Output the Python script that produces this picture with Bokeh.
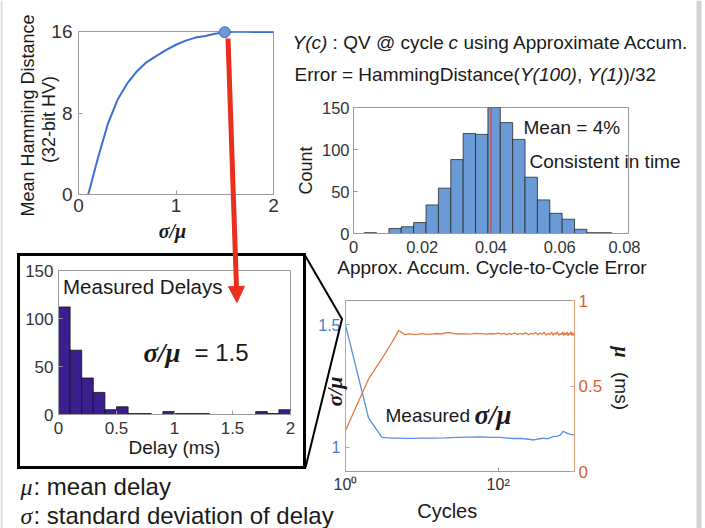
import math
from bokeh.plotting import figure
from bokeh.models import GridBox, Column, Range1d, LinearAxis, FixedTicker, Span, Arrow, NormalHead
from bokeh.core.properties import value
from bokeh.embed import file_html
from bokeh.resources import INLINE

# ---------------- data ----------------
# Mean Hamming distance vs sigma/mu
sm_ratio = [0.1, 0.2, 0.3, 0.4, 0.5, 0.6, 0.7, 0.8, 0.9, 1.0,
            1.1, 1.2, 1.3, 1.4, 1.5, 1.6, 1.7, 1.8, 1.9, 2.0]
hamming = [0.0, 3.6, 6.9, 9.3, 10.9, 12.1, 13.0, 13.6, 14.2, 14.7,
           15.1, 15.4, 15.55, 15.77, 15.93, 15.97, 15.97, 15.96, 15.95, 15.94]
sel_ratio = [1.5]
sel_hamming = [15.93]
hd_xticks = [0, 1, 2]
hd_xlabels = ["0", "1", "2"]
hd_yticks = [0, 8, 16]
hd_ylabels = ["0", "8", "16"]

# Approx. accum. cycle-to-cycle error histogram
err_edges = [0.0031, 0.0067, 0.0103, 0.0139, 0.0175, 0.0211, 0.0247, 0.0283, 0.0319, 0.0355, 0.0391,
             0.0427, 0.0463, 0.0499, 0.0535, 0.0571, 0.0607, 0.0643, 0.0679, 0.0715, 0.0751]
err_counts = [1, 0, 6, 8, 13, 34, 54, 88, 119, 118, 150, 132, 112, 67, 40, 24, 17, 5, 1, 1]
err_mean = 0.04
err_xticks = [0, 0.02, 0.04, 0.06, 0.08]
err_xlabels = ["0", "0.02", "0.04", "0.06", "0.08"]
err_yticks = [0, 50, 100, 150]
err_ylabels = ["0", "50", "100", "150"]

# Measured delays histogram
delay_edges = [0.0, 0.1, 0.2, 0.3, 0.4, 0.5, 0.6, 0.7, 0.8, 0.9, 1.0,
               1.1, 1.2, 1.3, 1.4, 1.5, 1.6, 1.7, 1.8, 1.9, 2.0]
delay_counts = [112, 67, 38, 23, 5, 8, 1, 1, 0, 3, 1, 1, 1, 0, 0, 0, 0, 3, 1, 5]
delay_xticks = [0, 0.5, 1, 1.5, 2]
delay_xlabels = ["0", "0.5", "1", "1.5", "2"]
delay_yticks = [0, 50, 100, 150]
delay_ylabels = ["0", "50", "100", "150"]

# sigma/mu and mu vs cycles
cyc_sigma = [1, 2, 3, 4, 5, 6, 8, 10, 14, 20, 30, 40, 60, 80, 107, 130, 160, 200, 250, 293,
             330, 396, 450, 536, 600, 656, 707, 760, 820, 890, 1000]
sigma_mu = [1.50, 1.12, 1.04, 1.037, 1.037, 1.036, 1.036, 1.037, 1.037, 1.038, 1.040, 1.041, 1.042,
            1.040, 1.040, 1.037, 1.035, 1.036, 1.032, 1.029, 1.033, 1.037, 1.034, 1.044, 1.045,
            1.050, 1.064, 1.060, 1.055, 1.052, 1.050]
cyc_mu = [1, 2, 3, 4, 5, 6, 7, 8, 9, 10, 12, 14, 16, 18, 20, 23, 26, 30, 35, 40, 45, 50, 60, 70, 80, 90, 100,
          110, 120, 130, 140, 150, 165, 180, 195, 210, 230, 250, 270, 290, 310, 330, 350, 375, 400, 425,
          450, 475, 500, 525, 550, 575, 600, 625, 650, 675, 700, 725, 750, 775, 800, 825, 850, 875, 900,
          925, 950, 975, 1000]
mu_ms = [0.24, 0.54, 0.66, 0.75, 0.825, 0.80, 0.805, 0.80, 0.803, 0.806, 0.802, 0.805, 0.807, 0.804, 0.81,
         0.812, 0.808, 0.804, 0.806, 0.803, 0.805, 0.808, 0.806, 0.803, 0.807, 0.805, 0.809,
         0.803, 0.808, 0.801, 0.806, 0.804, 0.809, 0.802, 0.807, 0.803, 0.811, 0.800, 0.807, 0.804, 0.812,
         0.799, 0.809, 0.803, 0.814, 0.798, 0.806, 0.801, 0.815, 0.797, 0.810, 0.803, 0.816, 0.796, 0.808,
         0.800, 0.817, 0.795, 0.811, 0.799, 0.816, 0.794, 0.809, 0.801, 0.818, 0.795, 0.812, 0.797, 0.806]
cyc_xticks = [1, 100]
cyc_xlabels = ["10\u2070", "10\u00b2"]
sig_yticks = [1, 1.5]
sig_ylabels = ["1", "1.5"]
mu_yticks = [0, 0.5, 1]
mu_ylabels = ["0", "0.5", "1"]

# ---------------- layout helpers ----------------
W, H = 705, 528
SANS = "Liberation Sans"
SERIF = "Liberation Serif"
INK = "#1a1a1a"
AXC = "#9a9a9a"
TICKC = "#333333"

children = []


def panel(page, frame, **kw):
    px0, py0, px1, py1 = page
    fx0, fy0, fx1, fy1 = frame
    w, h = px1 - px0, py1 - py0
    p = figure(width=w, height=h, toolbar_location=None, output_backend="svg",
               min_border_left=fx0 - px0, min_border_right=px1 - fx1,
               min_border_top=fy0 - py0, min_border_bottom=py1 - fy1, **kw)
    p.border_fill_alpha = 0
    p.background_fill_color = "white"
    p.outline_line_color = AXC
    p.xgrid.visible = False
    p.ygrid.visible = False
    children.append((Column(children=[p], width=w, height=h), py0, px0, h, w))
    return p


def style_axis(ax, ticks, labels, fs, standoff, color=TICKC, line=AXC):
    ax.ticker = FixedTicker(ticks=ticks)
    ax.major_label_overrides = {t: l for t, l in zip(ticks, labels)}
    ax.major_label_text_font = SANS
    ax.major_label_text_font_size = f"{fs}px"
    ax.major_label_text_color = color
    ax.major_label_standoff = standoff
    ax.axis_line_color = line
    ax.major_tick_line_color = line
    ax.major_tick_in = 4
    ax.major_tick_out = 0
    ax.minor_tick_line_color = None


# --- Panel A: mean Hamming distance ---
pa = panel((8, 8, 290, 230), (78, 31, 273, 194),
           x_range=Range1d(0, 2), y_range=Range1d(0, 16))
pa.line(sm_ratio, hamming, line_color="#3b6fd4", line_width=2)
pa.scatter(sel_ratio, sel_hamming, size=11, fill_color="#7096d6", line_color="#3f6cc0",
           line_width=1, level="overlay")
style_axis(pa.xaxis[0], hd_xticks, hd_xlabels, 19, 4)
style_axis(pa.yaxis[0], hd_yticks, hd_ylabels, 19, 6)

# --- Panel B: error histogram ---
pb = panel((295, 95, 640, 282), (353, 107, 628, 233),
           x_range=Range1d(0, 0.08), y_range=Range1d(0, 150))
pb.quad(left=err_edges[:-1], right=err_edges[1:], top=err_counts, bottom=0,
        fill_color="#6b9bd6", line_color="#2a2a2a", line_width=0.8)
pb.add_layout(Span(location=err_mean, dimension="height", line_color="#e8423a", line_width=1.3))
style_axis(pb.xaxis[0], err_xticks, err_xlabels, 16.5, 7)
style_axis(pb.yaxis[0], err_yticks, err_ylabels, 16.5, 4)

# --- Panel C: measured delays ---
pc = panel((20, 258, 300, 462), (58, 270, 290, 414),
           x_range=Range1d(0, 2), y_range=Range1d(0, 150))
pc.quad(left=delay_edges[:-1], right=delay_edges[1:], top=delay_counts, bottom=0,
        fill_color="#3b1f8f", line_color="#111111", line_width=0.8)
style_axis(pc.xaxis[0], delay_xticks, delay_xlabels, 17, 7)
style_axis(pc.yaxis[0], delay_yticks, delay_ylabels, 17, 5)

# --- Panel D: sigma/mu and mu vs cycles ---
BLUE = "#4a7bd0"
ORANGE = "#d9622b"
pd_ = panel((310, 290, 640, 500), (345, 300, 574, 471),
            x_axis_type="log", x_range=Range1d(1, 1000), y_range=Range1d(0.9, 1.6))
pd_.extra_y_ranges = {"mu": Range1d(0, 1)}
pd_.line(cyc_sigma, sigma_mu, line_color="#5b8ee0", line_width=1.3)
pd_.line(cyc_mu, mu_ms, line_color="#e37a45", line_width=1.3, y_range_name="mu")
rax = LinearAxis(y_range_name="mu")
pd_.add_layout(rax, "right")
style_axis(pd_.xaxis[0], cyc_xticks, cyc_xlabels, 16, 4)
style_axis(pd_.yaxis[0], sig_yticks, sig_ylabels, 16, 5, color=BLUE, line="#8fb0e6")
style_axis(rax, mu_yticks, mu_ylabels, 17, 4, color=ORANGE, line="#e9a07a")

# ---------------- annotation layer ----------------
ann = figure(width=W, height=H, toolbar_location=None, output_backend="svg",
             x_range=Range1d(0, W), y_range=Range1d(0, H),
             min_border=0, x_axis_location=None, y_axis_location=None)
ann.min_border_left = ann.min_border_right = ann.min_border_top = ann.min_border_bottom = 0
ann.border_fill_alpha = 0
ann.background_fill_alpha = 0
ann.outline_line_color = None
ann.xgrid.visible = False
ann.ygrid.visible = False


def X(px):
    return px


def Y(py):
    return H - py


def txt(x, y, s, size, font=SANS, style="normal", align="left", angle=0.0, color=INK):
    ann.text(x=[X(x)], y=[Y(y)], text=[s], text_font=value(font), text_font_size=value(f"{size}px"),
             text_font_style=style, text_align=align, text_baseline="middle", angle=angle,
             text_color=color)


# slide edge grey bars
ann.quad(left=[X(696)], right=[X(701)], top=[Y(0)], bottom=[Y(528)], fill_color="#d2d2d2", line_color=None)
ann.quad(left=[X(0)], right=[X(2)], top=[Y(0)], bottom=[Y(528)], fill_color="#dcdcdc", line_color=None)

# Panel A labels
txt(27, 115, "Mean Hamming Distance", 18, align="center", angle=math.pi / 2)
txt(48, 119, "(32-bit HV)", 18, align="center", angle=math.pi / 2)
txt(172, 230, "\u03c3/\u03bc", 20, font=SERIF, style="bold italic", align="center")

# header formulas (pieces placed one after another; SVG drops edge spaces)
fs = 19
txt(292, 42, "Y(c)", fs, style="italic")
txt(332.1, 42, ": QV @ cycle", fs)
txt(448.1, 42, "c", fs, style="italic")
txt(462.9, 42, "using Approximate Accum.", fs)
txt(294, 74, "Error = HammingDistance(", fs)
txt(519.4, 74, "Y(100)", fs, style="italic")
txt(576.4, 74, ",", fs)
txt(587, 74, "Y(1)", fs, style="italic")
txt(622.9, 74, ")/32", fs)

# Panel B labels
txt(523, 127, "Mean = 4%", 19)
txt(529, 161, "Consistent in time", 19)
txt(305, 170, "Count", 18, align="center", angle=math.pi / 2)
txt(492, 267, "Approx. Accum. Cycle-to-Cycle Error", 19, align="center")

# Panel C labels
txt(62.5, 286, "Measured Delays", 20.5)
txt(143, 352, "\u03c3/\u03bc", 27, font=SERIF, style="bold italic")
txt(194, 352, "= 1.5", 24)
txt(174, 447, "Delay (ms)", 19, align="center")

# Panel D labels
txt(385, 415, "Measured", 19)
txt(474, 414, "\u03c3/\u03bc", 27, font=SERIF, style="bold italic")
txt(334, 391, "\u03c3/\u03bc", 22, font=SERIF, style="bold italic", align="center", angle=math.pi / 2)
txt(621, 351.5, "\u03bc", 20, font=SERIF, style="bold italic", align="center", angle=-math.pi / 2)
txt(621, 390.5, "(ms)", 19, align="center", angle=-math.pi / 2)
txt(446.7, 510, "Cycles", 20, align="center")

# legend of symbols
txt(20, 486, "\u03bc", 24, font=SERIF, style="italic")
txt(33, 486, ": mean delay", 24)
txt(20, 515, "\u03c3", 24, font=SERIF, style="italic")
txt(33, 515, ": standard deviation of delay", 24)

# zoom box and connectors
ann.quad(left=[X(18)], right=[X(304)], top=[Y(254)], bottom=[Y(467)],
         fill_alpha=0, line_color="black", line_width=3, line_join="miter")
ann.line(x=[X(304), X(341.5), X(305)], y=[Y(254), Y(318.5), Y(467)], line_color="black", line_width=2)

# red arrow from the selected point to the delay histogram
RED = "#e8301c"
ann.add_layout(Arrow(end=NormalHead(size=16, fill_color=RED, line_color=RED),
                     x_start=X(227.5), y_start=Y(38), x_end=X(236.5), y_end=Y(302),
                     line_color=RED, line_width=5))

children.append((Column(children=[ann], width=W, height=H), 0, 0, H, W))

grid = GridBox(children=children, rows="1px", cols="1px", spacing=0)

open("out.html", "w").write(file_html(grid, INLINE))
